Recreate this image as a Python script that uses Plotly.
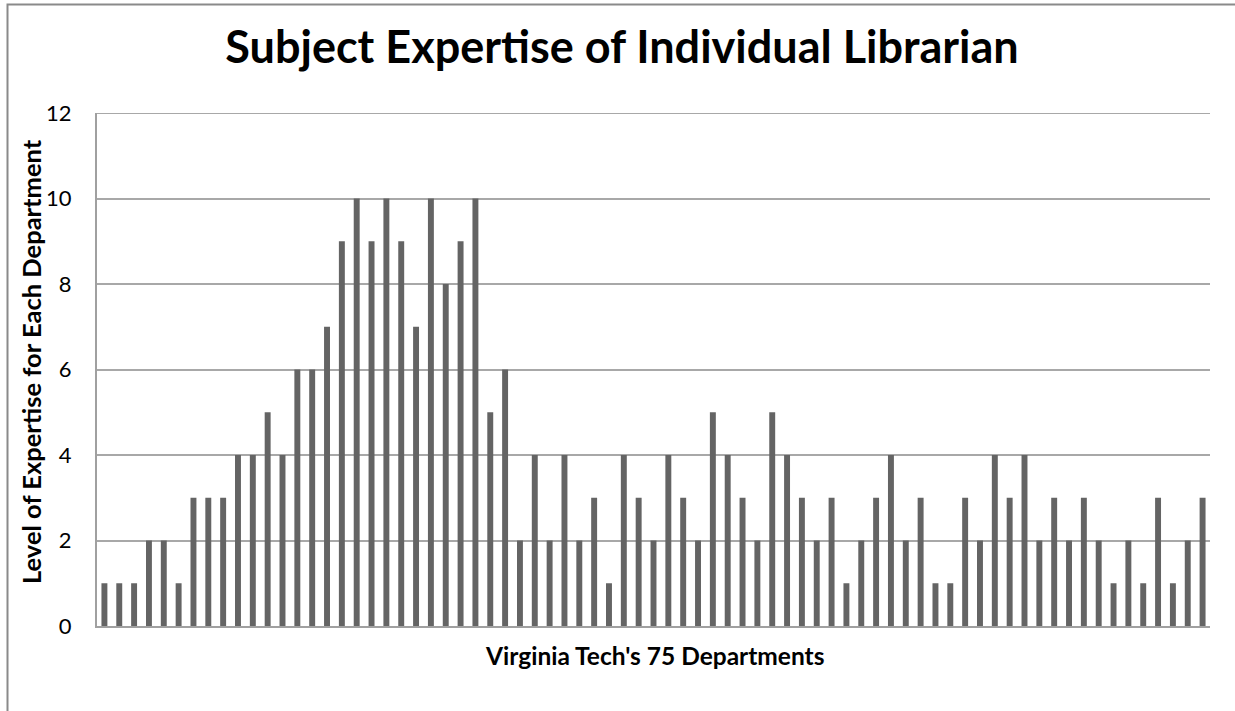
import plotly.graph_objects as go

departments = list(range(1, 76))
expertise = [1, 1, 1, 2, 2, 1, 3, 3, 3, 4,
             4, 5, 4, 6, 6, 7, 9, 10, 9, 10,
             9, 7, 10, 8, 9, 10, 5, 6, 2, 4,
             2, 4, 2, 3, 1, 4, 3, 2, 4, 3,
             2, 5, 4, 3, 2, 5, 4, 3, 2, 3,
             1, 2, 3, 4, 2, 3, 1, 1, 3, 2,
             4, 3, 4, 2, 3, 2, 3, 2, 1, 2,
             1, 3, 1, 2, 3]
y_ticks = [0, 2, 4, 6, 8, 10, 12]

W, H = 1235, 711
L, R, T, B = 97, 25, 113, 85
pw, ph = W - L - R, H - T - B

def px_x(x):
    return (x - L) / pw

def px_y(y):
    return (H - B - y) / ph

fig = go.Figure(go.Bar(
    x=departments, y=expertise,
    marker=dict(color="#646464", line=dict(width=0)),
))

fig.update_layout(
    width=W, height=H,
    margin=dict(l=L, r=R, t=T, b=B),
    paper_bgcolor="white", plot_bgcolor="white",
    bargap=0.6,
    showlegend=False,
    font=dict(family="Lato, 'Open Sans', sans-serif", color="#000000"),
    title=dict(text="<b>Subject Expertise of Individual Librarian</b>",
               x=px_x(622), xanchor="center", xref="paper",
               y=1 - 47 / H, yanchor="middle",
               font=dict(size=45, family="Lato", color="#000000")),
    xaxis=dict(range=[0.5, 75.5], showticklabels=False, ticks="",
               showgrid=False, zeroline=False,
               showline=True, linecolor="#a0a0a0", linewidth=2),
    yaxis=dict(range=[0, 12], tickvals=y_ticks, ticks="",
               tickfont=dict(size=22, family="Lato", color="#000000"),
               ticklabelstandoff=19,
               showgrid=True, gridcolor="#a8a8a8", gridwidth=2,
               zeroline=False,
               showline=True, linecolor="#a0a0a0", linewidth=2),
)

# top gridline at the edge of the plot area
fig.add_shape(type="line", xref="paper", yref="y",
              x0=0, x1=1, y0=y_ticks[-1], y1=y_ticks[-1],
              line=dict(color="#a8a8a8", width=2), layer="below")

fig.add_annotation(text="<b>Virginia Tech's 75 Departments</b>",
                   xref="paper", yref="paper", x=px_x(654), y=px_y(655),
                   xanchor="center", yanchor="middle", showarrow=False,
                   font=dict(size=24.5, family="Lato", color="#000000"))
fig.add_annotation(text="<b>Level of Expertise for Each Department</b>",
                   xref="paper", yref="paper", x=px_x(31), y=px_y(362),
                   xanchor="center", yanchor="middle", showarrow=False,
                   textangle=-90,
                   font=dict(size=25.5, family="Lato", color="#000000"))

# outer chart frame (right and bottom edges fall outside the image)
fig.add_shape(type="rect", xref="paper", yref="paper",
              x0=px_x(7.5), x1=px_x(1245), y0=px_y(4.5), y1=px_y(730),
              line=dict(color="#8a8a8a", width=2), fillcolor="rgba(0,0,0,0)",
              layer="below")

fig.write_html("out.html", config={"displayModeBar": False},
               post_script="document.body.style.margin='0';")
